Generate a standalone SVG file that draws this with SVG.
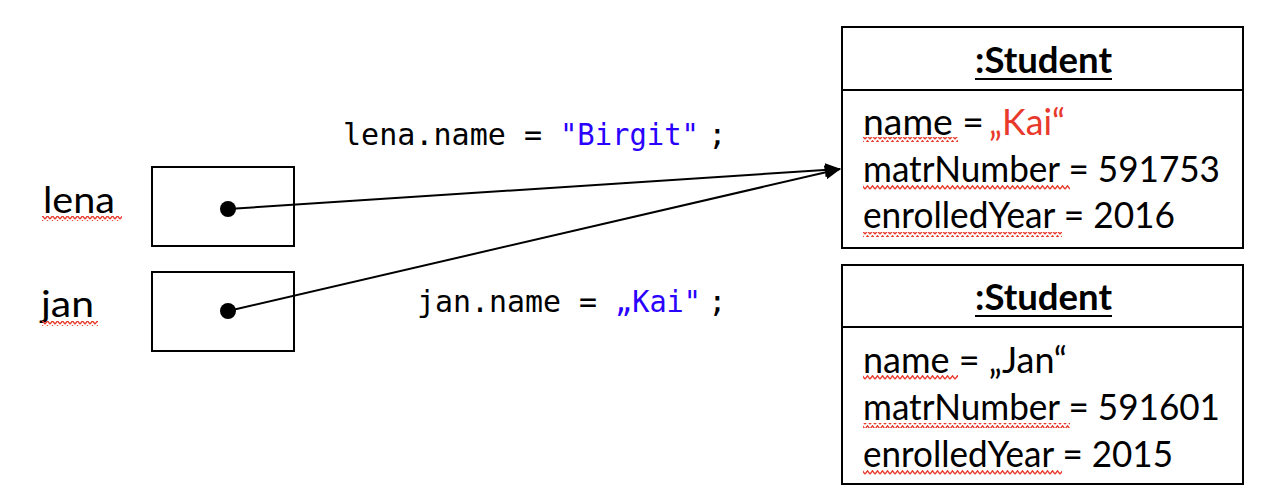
<svg xmlns="http://www.w3.org/2000/svg" width="1262" height="502" viewBox="0 0 1262 502">
<defs>
<style>
.box{fill:#fff;stroke:#000;stroke-width:2}
.t{font-family:Lato,"Open Sans","Liberation Sans",sans-serif;font-size:37px;fill:#000}
.b{font-weight:bold}
.code{font-family:"DejaVu Sans Mono","Liberation Mono",monospace;font-size:31px;fill:#000}
.blue{fill:#2a00ff}
.red{fill:#e8392c}
.conn{stroke:#000;stroke-width:2;fill:none}
.sq{fill:url(#squig)}
</style>
<pattern id="squig" patternUnits="userSpaceOnUse" width="5" height="5">
<path d="M0,4.2 L2.5,0.8 L5,4.2" fill="none" stroke="#e8392c" stroke-width="1.4"/>
</pattern>
<marker id="arr" markerWidth="16" markerHeight="14" refX="15" refY="7" orient="auto" markerUnits="userSpaceOnUse">
<path d="M0,0 L16,7 L0,14 Z" fill="#000"/>
</marker>
</defs>
<rect width="1262" height="502" fill="#fff"/>

<g id="var-lena">
<text class="t" x="43" y="213" textLength="72" lengthAdjust="spacingAndGlyphs">lena</text>
<rect class="sq" x="42" y="216" width="80" height="5"/>
<rect class="box" x="152" y="167" width="142" height="79"/>
<circle cx="228" cy="209" r="8" fill="#000"/>
</g>

<g id="var-jan">
<text class="t" x="41" y="317" textLength="53" lengthAdjust="spacingAndGlyphs">jan</text>
<rect class="sq" x="42" y="321" width="56" height="5"/>
<rect class="box" x="152" y="272" width="142" height="79"/>
<circle cx="228" cy="311" r="8" fill="#000"/>
</g>

<g id="code-lena">
<text class="code" x="343" y="145" textLength="199" lengthAdjust="spacingAndGlyphs">lena.name =</text>
<text class="code blue" x="560" y="145" textLength="139" lengthAdjust="spacingAndGlyphs">"Birgit"</text>
<text class="code" x="708" y="145">;</text>
</g>
<g id="code-jan">
<text class="code" x="417" y="312" textLength="180" lengthAdjust="spacingAndGlyphs">jan.name =</text>
<text class="code blue" x="615" y="312" textLength="86" lengthAdjust="spacingAndGlyphs">„Kai"</text>
<text class="code" x="708" y="312">;</text>
</g>

<g id="student1">
<rect class="box" x="842" y="27" width="401" height="221"/>
<line x1="842" y1="90" x2="1243" y2="90" stroke="#000" stroke-width="2"/>
<text class="t b" x="975" y="73" textLength="137" lengthAdjust="spacingAndGlyphs">:Student</text>
<line x1="975" y1="79" x2="1112" y2="79" stroke="#000" stroke-width="2"/>
<text class="t" x="863" y="135" textLength="121" lengthAdjust="spacingAndGlyphs">name =</text>
<text class="t red" x="989" y="135" textLength="76" lengthAdjust="spacingAndGlyphs">„Kai“</text>
<rect class="sq" x="863" y="137" width="95" height="5"/>
<text class="t" x="863" y="182" textLength="357" lengthAdjust="spacingAndGlyphs">matrNumber = 591753</text>
<rect class="sq" x="863" y="185" width="207" height="5"/>
<text class="t" x="863" y="228" textLength="312" lengthAdjust="spacingAndGlyphs">enrolledYear = 2016</text>
<rect class="sq" x="863" y="232" width="199" height="5"/>
</g>

<g id="student2">
<rect class="box" x="842" y="265" width="401" height="219"/>
<line x1="842" y1="327" x2="1243" y2="327" stroke="#000" stroke-width="2"/>
<text class="t b" x="975" y="310" textLength="137" lengthAdjust="spacingAndGlyphs">:Student</text>
<line x1="975" y1="316" x2="1112" y2="316" stroke="#000" stroke-width="2"/>
<text class="t" x="863" y="373" textLength="204" lengthAdjust="spacingAndGlyphs">name = „Jan“</text>
<rect class="sq" x="863" y="375" width="95" height="5"/>
<text class="t" x="863" y="420" textLength="357" lengthAdjust="spacingAndGlyphs">matrNumber = 591601</text>
<rect class="sq" x="863" y="423" width="207" height="5"/>
<text class="t" x="863" y="467" textLength="310" lengthAdjust="spacingAndGlyphs">enrolledYear = 2015</text>
<rect class="sq" x="863" y="470" width="199" height="5"/>
</g>

<g id="connectors">
<line class="conn" x1="228" y1="209" x2="840" y2="169" marker-end="url(#arr)"/>
<line class="conn" x1="228" y1="311" x2="840" y2="169" marker-end="url(#arr)"/>
</g>
</svg>
